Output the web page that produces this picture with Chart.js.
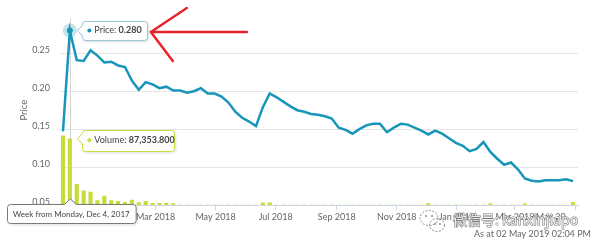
<!DOCTYPE html>
<html lang="en">
<head>
<meta charset="UTF-8">
<title>Price and Volume</title>
<style>
    body { margin: 0; background: #ffffff; }
    #chart { display: block; }
</style>
</head>
<body>
<canvas id="chart" width="602" height="249"></canvas>
<script src="https://cdn.jsdelivr.net/npm/chart.js"></script>
<script>
// weekly series, first week starts Monday 27 Nov 2017
const firstWeek = '2017-11-27';
const prices = [
    0.147, 0.280, 0.241, 0.240, 0.254, 0.247, 0.238, 0.239, 0.234, 0.232,
    0.214, 0.202, 0.212, 0.209, 0.204, 0.206, 0.201, 0.201, 0.198, 0.200,
    0.204, 0.197, 0.197, 0.193, 0.185, 0.173, 0.165, 0.160, 0.154, 0.179,
    0.197, 0.192, 0.186, 0.180, 0.175, 0.173, 0.170, 0.169, 0.167, 0.164,
    0.152, 0.149, 0.144, 0.150, 0.155, 0.157, 0.157, 0.146, 0.152, 0.157,
    0.156, 0.152, 0.148, 0.143, 0.148, 0.144, 0.138, 0.132, 0.128, 0.121,
    0.124, 0.133, 0.120, 0.111, 0.103, 0.106, 0.097, 0.085, 0.082, 0.081,
    0.0825, 0.0825, 0.0825, 0.084, 0.0815
];
// volume in thousands
const volumes = [
    91300, 87353.8, 27300, 18800, 17100, 5700, 11900, 5700, 4900, 3600,
    6600, 3300, 4900, 2200, 2200, 2600, 2000, 0, 0, 0,
    0, 0, 0, 0, 0, 0, 0, 0, 0, 3000,
    3000, 0, 0, 0, 0, 0, 0, 0, 0, 0,
    0, 0, 0, 0, 0, 0, 0, 0, 0, 0,
    0, 0, 0, 2000, 0, 0, 0, 0, 0, 0,
    0, 0, 1500, 0, 0, 0, 0, 1500, 0, 0,
    0, 0, 0, 0, 3500
];
const monthTicks = ['2018-01-01', '2018-03-01', '2018-05-01', '2018-07-01', '2018-09-01',
    '2018-11-01', '2019-01-01', '2019-03-01', '2019-05-01'];
const monthLabels = ['Jan 2018', 'Mar 2018', 'May 2018', 'Jul 2018', 'Sep 2018',
    'Nov 2018', 'Jan 2019', 'Mar 2019', 'May 2019'];
const xStart = '2017-11-24';
const xEnd = '2019-05-04';
const highlight = 1;
const weekText = 'Week from Monday, Dec 4, 2017';
const watermark = '微信号: kanxinjiapo';
const asAtText = 'As at 02 May 2019 02:04 PM';

const lineColor = '#1896b9';
const barColor = '#c8dc3c';
const FONT = 'Lato, "DejaVu Sans", sans-serif';

function dayNum(s) {
    const [y, m, d] = s.split('-').map(Number);
    return Date.UTC(y, m - 1, d) / 86400000;
}
const weeks = prices.map((_, i) => dayNum(firstWeek) + 7 * i);

// tooltip-like box with a caret
function tipBox(ctx, l, t, w, h, border, caret, tx, ty) {
    const r = 3;
    l = Math.round(l) + 0.5; t = Math.round(t) + 0.5;
    ctx.save();
    ctx.beginPath();
    ctx.moveTo(l + r, t);
    if (caret === 'top') {
        ctx.lineTo(tx - 6, t);
        ctx.lineTo(tx, ty);
        ctx.lineTo(tx + 6, t);
    }
    ctx.lineTo(l + w - r, t);
    ctx.arcTo(l + w, t, l + w, t + r, r);
    ctx.lineTo(l + w, t + h - r);
    ctx.arcTo(l + w, t + h, l + w - r, t + h, r);
    ctx.lineTo(l + r, t + h);
    ctx.arcTo(l, t + h, l, t + h - r, r);
    if (caret === 'left') {
        ctx.lineTo(l, ty + 5);
        ctx.lineTo(tx, ty);
        ctx.lineTo(l, ty - 5);
    }
    ctx.lineTo(l, t + r);
    ctx.arcTo(l, t, l + r, t, r);
    ctx.closePath();
    ctx.shadowColor = 'rgba(0,0,0,0.18)';
    ctx.shadowOffsetX = 1;
    ctx.shadowOffsetY = 1;
    ctx.shadowBlur = 3;
    ctx.fillStyle = 'rgba(255,255,255,0.97)';
    ctx.fill();
    ctx.shadowColor = 'transparent';
    ctx.strokeStyle = border;
    ctx.lineWidth = 1;
    ctx.stroke();
    ctx.restore();
}

function tipText(ctx, x, y, dotColor, label, value) {
    ctx.save();
    ctx.fillStyle = dotColor;
    ctx.beginPath();
    ctx.arc(x, y, 2, 0, Math.PI * 2);
    ctx.fill();
    ctx.textBaseline = 'middle';
    ctx.fillStyle = '#444';
    ctx.font = '9px ' + FONT;
    ctx.fillText(label, x + 5, y);
    const w = ctx.measureText(label).width;
    ctx.font = 'bold 9px ' + FONT;
    ctx.fillText(value, x + 5 + w, y);
    ctx.restore();
}

const overlay = {
    id: 'overlay',
    beforeDatasetsDraw(chart) {
        const {ctx, chartArea, scales} = chart;
        const x = Math.round(scales.x.getPixelForValue(weeks[highlight])) + 0.5;
        ctx.save();
        ctx.strokeStyle = '#d5d5d5';
        ctx.lineWidth = 1;
        ctx.beginPath();
        ctx.moveTo(x, chartArea.top + 3);
        ctx.lineTo(x, chartArea.bottom);
        ctx.stroke();
        ctx.restore();
    },
    afterDatasetsDraw(chart) {
        const {ctx, scales} = chart;
        const px = scales.x.getPixelForValue(weeks[highlight]);
        const py = scales.y.getPixelForValue(prices[highlight]);
        ctx.save();
        ctx.fillStyle = 'rgba(24,150,185,0.25)';
        ctx.beginPath();
        ctx.arc(px, py, 7, 0, Math.PI * 2);
        ctx.fill();
        ctx.fillStyle = lineColor;
        ctx.beginPath();
        ctx.arc(px, py, 3, 0, Math.PI * 2);
        ctx.fill();
        ctx.restore();
    },
    afterDraw(chart) {
        const {ctx, chartArea, scales} = chart;

        // x axis labels (last one gets shortened like the original)
        ctx.save();
        ctx.font = '9px ' + FONT;
        ctx.fillStyle = '#666';
        ctx.textAlign = 'center';
        ctx.textBaseline = 'middle';
        monthTicks.forEach((m, i) => {
            let x = scales.x.getPixelForValue(dayNum(m));
            let text = monthLabels[i];
            let w = ctx.measureText(text).width;
            if (x + w / 2 > chartArea.right) {
                text = text.slice(0, 6) + '...';
                w = ctx.measureText(text).width;
                x = chartArea.right - 6 - w / 2;
            }
            ctx.fillText(text, x, chartArea.bottom + 12);
        });
        ctx.restore();

        const px = scales.x.getPixelForValue(weeks[highlight]);
        const py = scales.y.getPixelForValue(prices[highlight]);
        const vy = scales.y1.getPixelForValue(volumes[highlight]);

        // price tooltip
        const pl = px + 12;
        tipBox(ctx, pl, py - 10, 65, 19, '#96c6d4', 'left', px + 7.5, py);
        tipText(ctx, pl + 7.5, py, lineColor, 'Price: ', prices[highlight].toFixed(3));

        // volume tooltip
        tipBox(ctx, pl, vy - 9, 92, 21, barColor, 'left', px + 7.5, vy);
        tipText(ctx, pl + 7.5, vy + 1.5, barColor, 'Volume: ',
            volumes[highlight].toLocaleString('en-US', {minimumFractionDigits: 3}));

        // week label under the axis
        ctx.save();
        ctx.font = '8px ' + FONT;
        const ww = ctx.measureText(weekText).width + 12;
        const wl = px + 1.5 - ww / 2;
        ctx.restore();
        tipBox(ctx, wl, chartArea.bottom - 1, ww, 19, '#7a7a7a', 'top', px + 0.5, chartArea.bottom - 6);
        ctx.save();
        ctx.font = '8px ' + FONT;
        ctx.fillStyle = '#444';
        ctx.textAlign = 'center';
        ctx.textBaseline = 'middle';
        ctx.fillText(weekText, wl + ww / 2, chartArea.bottom + 9);
        ctx.restore();

        // red arrow pointing at the price tooltip
        const ax = pl + 69, ay = py + 1.5;
        ctx.save();
        ctx.strokeStyle = '#e8232b';
        ctx.lineWidth = 2.5;
        ctx.lineCap = 'round';
        ctx.beginPath();
        ctx.moveTo(ax + 36, ay - 24);
        ctx.lineTo(ax, ay);
        ctx.lineTo(ax + 22, ay + 29);
        ctx.moveTo(ax, ay);
        ctx.lineTo(ax + 96, ay);
        ctx.stroke();
        ctx.restore();

        // watermark
        ctx.save();
        ctx.strokeStyle = 'rgba(120,120,120,0.85)';
        ctx.lineWidth = 1;
        ctx.setLineDash([2, 1.5]);
        ctx.beginPath();
        ctx.ellipse(429, 218, 9, 7.5, 0, 0, Math.PI * 2);
        ctx.stroke();
        ctx.beginPath();
        ctx.ellipse(437, 225, 7.5, 6.5, 0, 0, Math.PI * 2);
        ctx.stroke();
        ctx.setLineDash([]);
        ctx.fillStyle = 'rgba(120,120,120,0.85)';
        [[426, 216], [432, 216], [435, 224], [440, 224]].forEach(([x, y]) => {
            ctx.beginPath();
            ctx.arc(x, y, 1, 0, Math.PI * 2);
            ctx.fill();
        });
        ctx.font = '14px "Noto Sans CJK SC", sans-serif';
        ctx.textBaseline = 'middle';
        ctx.lineWidth = 1.1;
        ctx.strokeStyle = 'rgba(110,110,110,0.9)';
        ctx.strokeText(watermark, 453, 220);
        ctx.fillStyle = 'rgba(255,255,255,0.85)';
        ctx.fillText(watermark, 453, 220);
        ctx.restore();

        ctx.save();
        ctx.font = '9px ' + FONT;
        ctx.fillStyle = '#666';
        ctx.textBaseline = 'middle';
        ctx.fillText(asAtText, 474, 234);
        ctx.restore();
    }
};

const ctx = document.getElementById('chart').getContext('2d');
new Chart(ctx, {
    data: {
        datasets: [
            {
                type: 'line',
                label: 'Price',
                data: weeks.map((d, i) => ({x: d, y: prices[i]})),
                yAxisID: 'y',
                borderColor: lineColor,
                borderWidth: 2.5,
                pointRadius: 0,
                tension: 0,
                order: 0
            },
            {
                type: 'bar',
                label: 'Volume',
                data: weeks.map((d, i) => ({x: d, y: volumes[i]})),
                yAxisID: 'y1',
                backgroundColor: barColor,
                barThickness: 3.5,
                order: 1
            }
        ]
    },
    options: {
        responsive: false,
        animation: false,
        layout: { padding: { top: 15, right: 24, left: 0, bottom: 0 } },
        plugins: {
            legend: { display: false },
            tooltip: { enabled: false }
        },
        scales: {
            x: {
                type: 'linear',
                offset: false,
                min: dayNum(xStart),
                max: dayNum(xEnd),
                afterBuildTicks: s => { s.ticks = monthTicks.map(m => ({value: dayNum(m)})); },
                afterFit: s => { s.height = 44; },
                ticks: { display: false },
                grid: { offset: false, drawOnChartArea: false, drawTicks: true, tickLength: 5, color: '#ccd6eb' },
                border: { color: '#ccd6eb' }
            },
            y: {
                position: 'left',
                min: 0.05,
                max: 0.30,
                afterBuildTicks: s => { s.ticks = s.ticks.filter(t => t.value < 0.27); },
                afterFit: s => { s.width = 60; },
                ticks: {
                    stepSize: 0.05,
                    callback: v => v.toFixed(2),
                    color: '#666',
                    font: { family: FONT, size: 9 },
                    padding: 10,
                    labelOffset: -3
                },
                grid: { color: '#e6e6e6', drawTicks: false },
                border: { display: false },
                title: {
                    display: true,
                    text: 'Price',
                    color: '#666',
                    font: { family: FONT, size: 9.5 },
                    padding: { top: 18, bottom: 0 }
                }
            },
            y1: {
                display: false,
                min: 0,
                max: 250000
            }
        }
    },
    plugins: [overlay]
});
</script>
</body>
</html>
